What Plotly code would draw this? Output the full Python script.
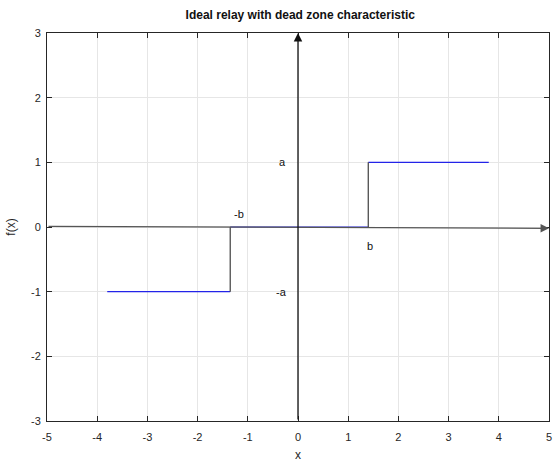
import plotly.graph_objects as go

# data
neg_x = [-3.8, -1.35]
neg_y = [-1, -1]
dead_x = [-1.35, 1.4]
dead_y = [0, 0]
pos_x = [1.4, 3.8]
pos_y = [1, 1]
jump_left_x = [-1.35, -1.35]
jump_left_y = [-1, 0]
jump_right_x = [1.4, 1.4]
jump_right_y = [0, 1]
tick_vals_x = [-5, -4, -3, -2, -1, 0, 1, 2, 3, 4, 5]
tick_text_x = ["-5", "-4", "-3", "-2", "-1", "0", "1", "2", "3", "4", "5"]
tick_vals_y = [-3, -2, -1, 0, 1, 2, 3]
tick_text_y = ["-3", "-2", "-1", "0", "1", "2", "3"]
labels = ["a", "-a", "-b", "b"]
label_x = [-0.3, -0.33, -1.17, 1.43]
label_y = [1.0, -1.0, 0.2, -0.3]

FONT = "Liberation Sans, Arial, Helvetica, sans-serif"
fig = go.Figure()

blue = "#2323e8"
gray = "#4d4d4d"
for xs, ys in [(neg_x, neg_y), (dead_x, dead_y), (pos_x, pos_y)]:
    fig.add_trace(go.Scatter(x=xs, y=ys, mode="lines",
                             line=dict(color=blue, width=1.2), showlegend=False, hoverinfo="skip"))

# x axis arrow (gray line)
fig.add_annotation(x=5, y=-0.02, ax=-5, ay=0.01, xref="x", yref="y", axref="x", ayref="y",
                   showarrow=True, arrowhead=2, arrowsize=1.3, arrowwidth=1.3,
                   arrowcolor="#555555", text="")
# y axis arrow
fig.add_annotation(x=0, y=3, ax=0, ay=-3, xref="x", yref="y", axref="x", ayref="y",
                   showarrow=True, arrowhead=2, arrowsize=1.3, arrowwidth=1.3,
                   arrowcolor="#111111", text="")

for xs, ys in [(jump_left_x, jump_left_y), (jump_right_x, jump_right_y)]:
    fig.add_trace(go.Scatter(x=xs, y=ys, mode="lines",
                             line=dict(color=gray, width=1.3), showlegend=False, hoverinfo="skip"))

for t, lx, ly in zip(labels, label_x, label_y):
    fig.add_annotation(x=lx, y=ly, xref="x", yref="y", text=t, showarrow=False,
                       font=dict(family=FONT, size=11, color="#111111"))

axis_common = dict(showgrid=True, gridcolor="#e6e6e6", gridwidth=1,
                   showline=True, linecolor="#262626", linewidth=1, mirror="ticks",
                   ticks="inside", ticklen=5, tickcolor="#262626",
                   zeroline=False, automargin=False,
                   tickfont=dict(family=FONT, size=11, color="#262626"))

fig.update_xaxes(range=[-5, 5], tickvals=tick_vals_x, ticktext=tick_text_x, **axis_common,
                 ticklabelstandoff=6,
                 title=dict(text="x", font=dict(family=FONT, size=12, color="#262626"), standoff=8))
fig.update_yaxes(range=[-3, 3], tickvals=tick_vals_y, ticktext=tick_text_y, **axis_common,
                 ticklabelstandoff=3,
                 title=dict(text="f(x)", font=dict(family=FONT, size=12, color="#262626"), standoff=12))

fig.update_layout(
    width=554, height=463,
    margin=dict(l=47, r=5, t=33, b=42),
    plot_bgcolor="white", paper_bgcolor="white",
    title=dict(text="<b>Ideal relay with dead zone characteristic</b>",
               font=dict(family=FONT, size=12, color="#111111"),
               x=0.542, xanchor="center", y=0.968, yanchor="middle"),
)

fig.write_html("out.html", config={"displayModeBar": False},
               post_script="document.body.style.margin='0';document.body.style.overflow='hidden';")
